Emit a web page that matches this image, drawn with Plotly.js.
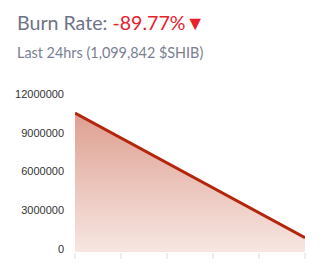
<!DOCTYPE html>
<html>
<head>
<meta charset="utf-8">
<script src="https://cdn.plot.ly/plotly-3.0.1.min.js"></script>
<style>
html,body{margin:0;padding:0;background:#fff;}
#chart{width:321px;height:272px;}
</style>
</head>
<body>
<div id="chart"></div>
<script>
const hours = [0, 5];
const burned = [10751152, 1099842];
const yTicks = [0, 3000000, 6000000, 9000000, 12000000];
const burnRateText = "-89.77%";
const subtitleText = "Last 24hrs (1,099,842 $SHIB)";

const trace = {
  x: hours,
  y: burned,
  type: 'scatter',
  mode: 'lines',
  line: {color: '#b3260c', width: 3},
  fill: 'tozeroy',
  fillgradient: {
    type: 'vertical',
    start: 0,
    stop: burned[0],
    colorscale: [[0, 'rgb(247,230,226)'], [1, 'rgb(222,160,145)']]
  },
  hoverinfo: 'none'
};

const layout = {
  width: 321, height: 272,
  margin: {l: 75, r: 16, t: 97, b: 20},
  paper_bgcolor: '#fff', plot_bgcolor: '#fff',
  showlegend: false,
  xaxis: {
    range: [0, 5], dtick: 1, tick0: 0,
    showticklabels: false, showgrid: false, zeroline: false, showline: false,
    ticks: 'outside', ticklen: 6, tickwidth: 2, tickcolor: '#eeeeee'
  },
  yaxis: {
    range: [0, 12000000], tickvals: yTicks, tickformat: 'd',
    showgrid: false, zeroline: false, showline: false,
    ticks: '', ticklabelstandoff: 10, ticklabelshift: -3,
    tickfont: {family: 'Liberation Sans, Arial, sans-serif', size: 11, color: '#333'}
  },
  annotations: [
    {
      xref: 'paper', yref: 'paper', x: (15 - 75) / 230, y: (252 - 23) / 155,
      xanchor: 'left', yanchor: 'middle', showarrow: false,
      text: 'Burn Rate: <span style="color:#e8212b">' + burnRateText + '▼</span>',
      font: {family: 'Lato, Open Sans, sans-serif', size: 19.6, color: '#6e7387'}
    },
    {
      xref: 'paper', yref: 'paper', x: (15 - 75) / 230, y: (252 - 53) / 155,
      xanchor: 'left', yanchor: 'middle', showarrow: false,
      text: subtitleText,
      font: {family: 'Lato, Open Sans, sans-serif', size: 14.4, color: '#7a7f93'}
    }
  ]
};

Plotly.newPlot('chart', [trace], layout, {displayModeBar: false, staticPlot: true});
</script>
</body>
</html>
